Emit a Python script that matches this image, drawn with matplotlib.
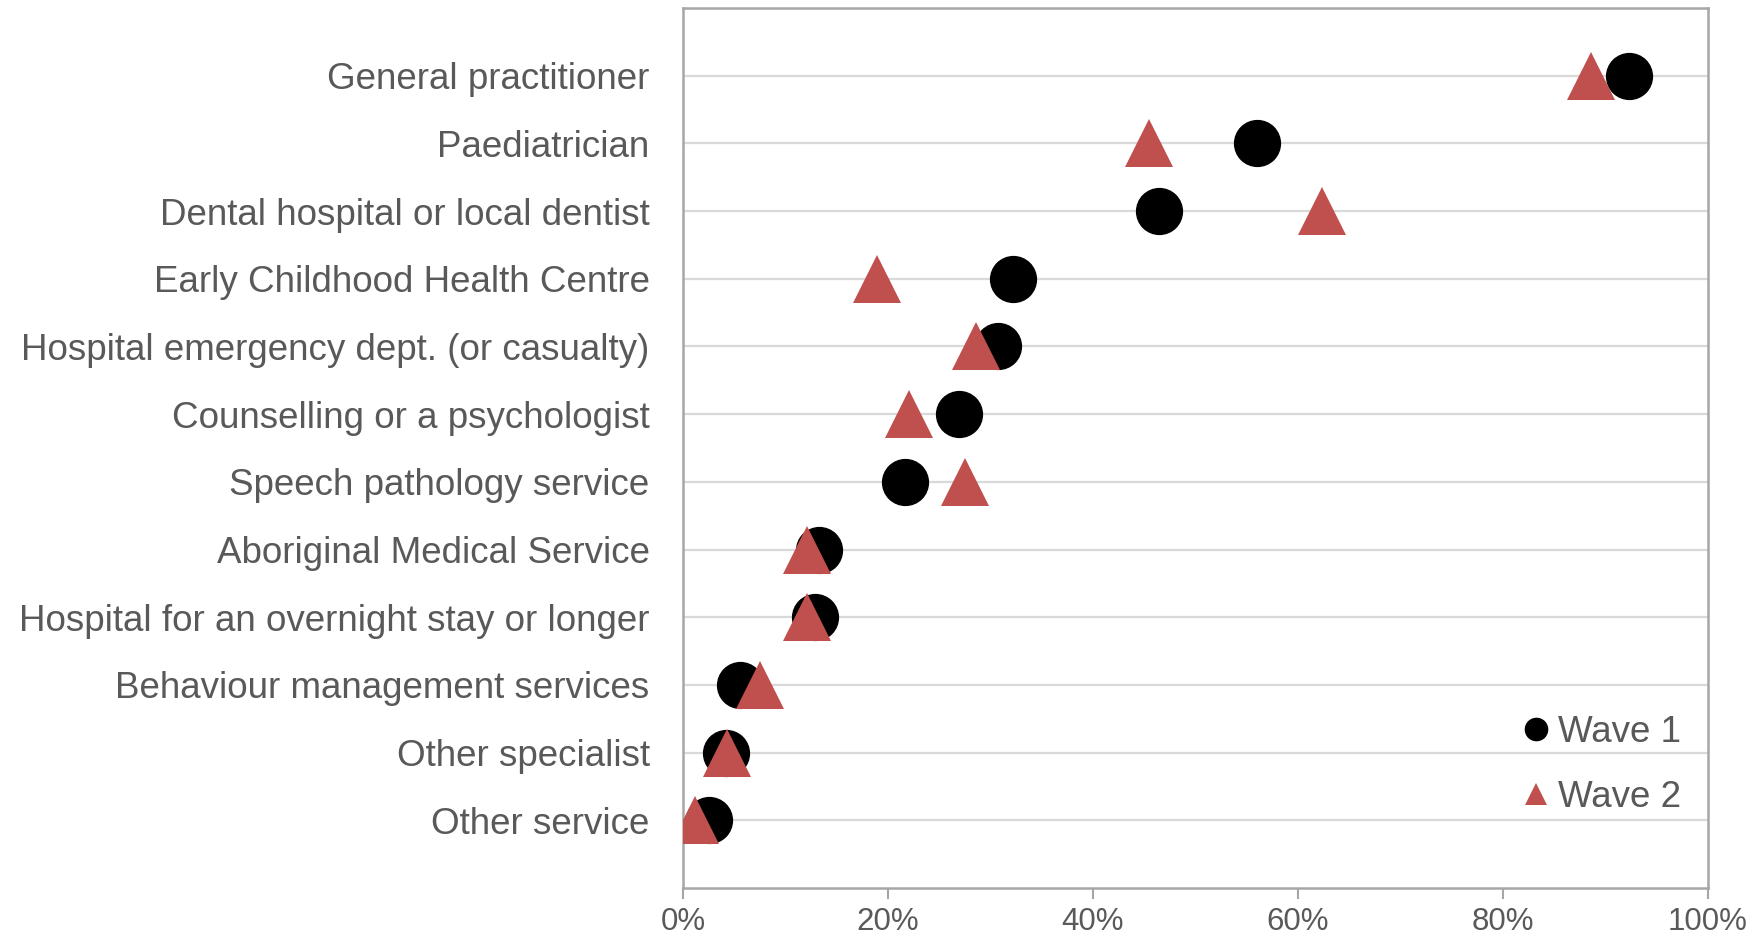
import matplotlib
matplotlib.use("Agg")
import matplotlib.pyplot as plt
from matplotlib.lines import Line2D
from matplotlib.ticker import FuncFormatter

plt.rcParams['font.family'] = ['Liberation Sans', 'DejaVu Sans']

# Services used, top to bottom
services = [
    "General practitioner",
    "Paediatrician",
    "Dental hospital or local dentist",
    "Early Childhood Health Centre",
    "Hospital emergency dept. (or casualty)",
    "Counselling or a psychologist",
    "Speech pathology service",
    "Aboriginal Medical Service",
    "Hospital for an overnight stay or longer",
    "Behaviour management services",
    "Other specialist",
    "Other service",
]
# Share of respondents (%)
wave1 = [92.3, 56.0, 46.4, 32.2, 30.7, 26.9, 21.7, 13.3, 12.9, 5.6, 4.2, 2.5]
wave2 = [88.6, 45.5, 62.3, 18.9, 28.6, 22.0, 27.5, 12.1, 12.1, 7.5, 4.3, 1.2]
x_ticks = [0, 20, 40, 60, 80, 100]

TEXT = "#595959"
GRID = "#D9D9D9"
FRAME = "#A6A6A6"
RED = "#C0504D"

fig = plt.figure(figsize=(17.62, 9.35), dpi=100)
ax = fig.add_axes([683 / 1762, 1 - 888 / 935, (1708 - 683) / 1762, (888 - 8) / 935])

n = len(services)
ypos = list(range(n, 0, -1))

ax.plot(wave1, ypos, linestyle="none", marker="o", markersize=33,
        color="black", zorder=3, label="Wave 1")
ax.plot(wave2, ypos, linestyle="none", marker="^", markersize=34,
        color=RED, markeredgewidth=0, zorder=4, label="Wave 2")

ax.set_xlim(0, 100)
ax.set_ylim(0, n + 1)
ax.set_xticks(x_ticks)
ax.xaxis.set_major_formatter(FuncFormatter(lambda v, p: f"{v:.0f}%"))
ax.set_yticks(ypos)
ax.set_yticklabels(services)

ax.grid(axis="y", color=GRID, linewidth=1.6, zorder=0)
ax.set_axisbelow(True)
for s in ax.spines.values():
    s.set_color(FRAME)
    s.set_linewidth(1.8)

ax.tick_params(axis="y", length=0, pad=24, labelsize=26.5, labelcolor=TEXT)
ax.tick_params(axis="x", length=8, width=1.5, color=FRAME, pad=6,
               labelsize=22.5, labelcolor=TEXT)

handles = [
    Line2D([], [], linestyle="none", marker="o", markersize=16, color="black"),
    Line2D([], [], linestyle="none", marker="^", markersize=16, color=RED,
           markeredgewidth=0),
]
ax.legend(handles, ["Wave 1", "Wave 2"], loc="lower right",
          bbox_to_anchor=(0.988, 0.066), frameon=False, fontsize=26.5,
          labelcolor=TEXT, handlelength=0.7, handletextpad=0.25,
          labelspacing=0.83, borderaxespad=0)

fig.savefig("out.png", dpi=100)
